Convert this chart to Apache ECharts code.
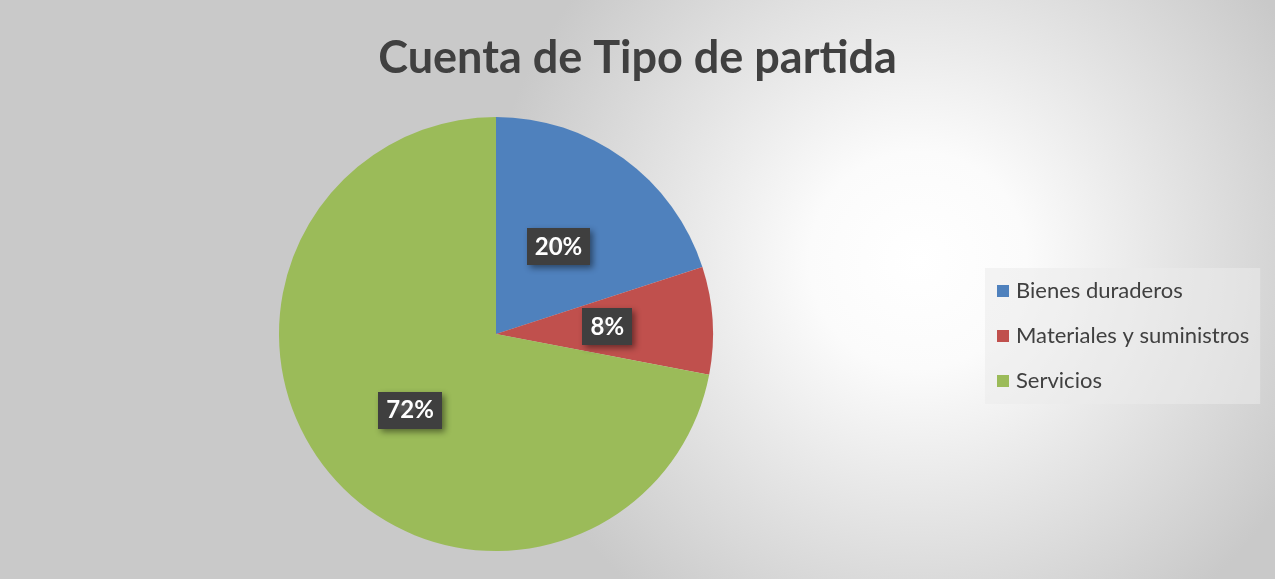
<!DOCTYPE html>
<html>
<head>
<meta charset="utf-8">
<script src="https://cdn.jsdelivr.net/npm/echarts@6/dist/echarts.min.js"></script>
<style>
  html, body { margin: 0; padding: 0; background: #ffffff; }
  #chart { width: 1275px; height: 579px; }
</style>
</head>
<body>
<div id="chart"></div>
<script>
// data (counts giving 20% / 8% / 72%)
const categories = ['Bienes duraderos', 'Materiales y suministros', 'Servicios']
const counts = [5, 2, 18]
const colors = ['#4F81BD', '#C0504D', '#9BBB59']

// small dotted texture for the label boxes
function makeDots() {
  const c = document.createElement('canvas')
  c.width = 7
  c.height = 7
  const ctx = c.getContext('2d')
  ctx.fillStyle = '#3f3f3f'
  ctx.fillRect(0, 0, 7, 7)
  ctx.fillStyle = '#555555'
  ctx.fillRect(2, 2, 2, 2)
  return c
}
const dots = makeDots()

const chart = echarts.init(document.getElementById('chart'))

const labelOffsets = [[-3, 3], [0, 0], [0, 5]]

const option = {
  backgroundColor: new echarts.graphic.RadialGradient(0.72, 0.45, 0.75, [
    { offset: 0, color: '#ffffff' },
    { offset: 0.25, color: '#fbfbfb' },
    { offset: 1, color: '#c9c9c9' }
  ]),
  animation: false,
  title: {
    text: 'Cuenta de Tipo de partida',
    left: 'center',
    top: 31,
    textStyle: {
      fontFamily: 'Lato',
      fontWeight: 'bold',
      fontSize: 45,
      color: '#404040'
    }
  },
  legend: {
    orient: 'vertical',
    left: 985,
    top: 268,
    padding: [12, 11, 12, 12],
    itemGap: 23,
    itemWidth: 12,
    itemHeight: 12,
    icon: 'rect',
    backgroundColor: 'rgba(235,235,235,0.55)',
    data: categories,
    textStyle: {
      fontFamily: 'Lato',
      fontSize: 22,
      color: '#404040',
      padding: [0, 0, 0, 2]
    }
  },
  series: [{
    type: 'pie',
    center: [496, 334],
    radius: 217,
    startAngle: 90,
    clockwise: true,
    silent: true,
    itemStyle: { borderWidth: 0 },
    label: {
      show: true,
      position: 'inside',
      formatter: '{d}%',
      fontFamily: 'Lato',
      fontWeight: 'bold',
      fontSize: 24,
      color: '#ffffff',
      backgroundColor: { image: dots, repeat: 'repeat' },
      padding: [7, 8, 6, 8],
      shadowColor: 'rgba(0,0,0,0.45)',
      shadowBlur: 6,
      shadowOffsetX: 3,
      shadowOffsetY: 3
    },
    labelLine: { show: false },
    data: categories.map((name, i) => ({
      name,
      value: counts[i],
      itemStyle: { color: colors[i] },
      label: { offset: labelOffsets[i] }
    }))
  }]
}

chart.setOption(option)
</script>
</body>
</html>
